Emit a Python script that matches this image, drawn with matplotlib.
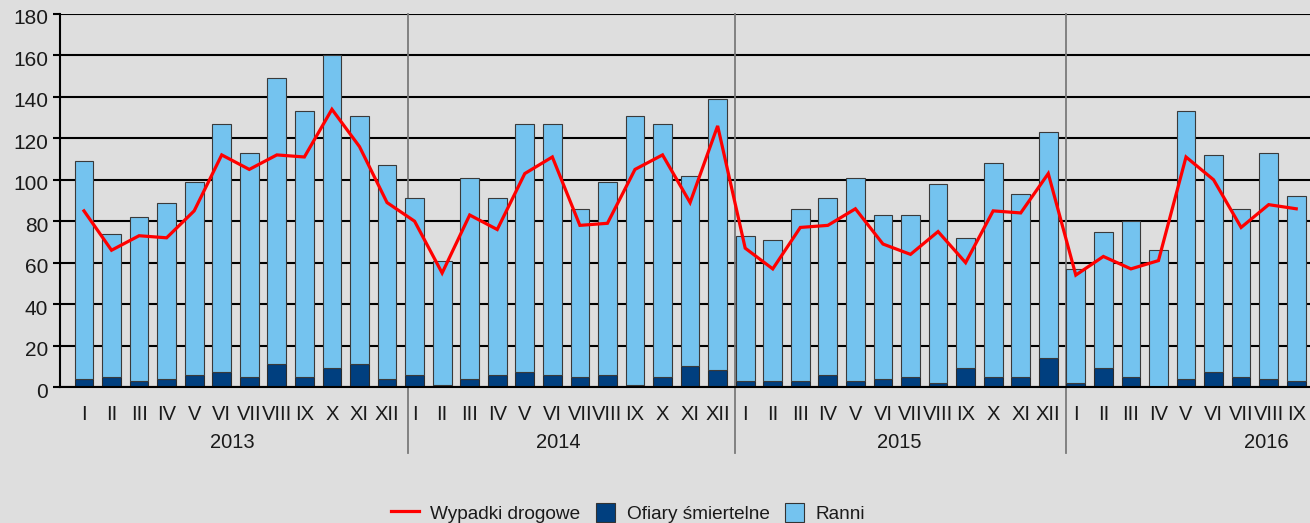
import matplotlib
matplotlib.use("Agg")
import matplotlib.pyplot as plt
import matplotlib.transforms as mtransforms
from matplotlib.lines import Line2D
from matplotlib.patches import Patch, Rectangle
from matplotlib.legend_handler import HandlerPatch
import numpy as np

plt.rcParams['font.family'] = ['Liberation Sans', 'DejaVu Sans']

# data
years = ["2013", "2014", "2015", "2016"]
roman = ["I", "II", "III", "IV", "V", "VI", "VII", "VIII", "IX", "X", "XI", "XII"]
months_per_year = [12, 12, 12, 9]

accidents = [85, 66, 73, 72, 85, 112, 105, 112, 111, 134, 116, 89,
             80, 55, 83, 76, 103, 111, 78, 79, 105, 112, 89, 126,
             67, 57, 77, 78, 86, 69, 64, 75, 60, 85, 84, 103,
             54, 63, 57, 61, 111, 100, 77, 88, 86]
deaths = [4, 5, 3, 4, 6, 7, 5, 11, 5, 9, 11, 4,
          6, 1, 4, 6, 7, 6, 5, 6, 1, 5, 10, 8,
          3, 3, 3, 6, 3, 4, 5, 2, 9, 5, 5, 14,
          2, 9, 5, 0, 4, 7, 5, 4, 3]
injured = [105, 69, 79, 85, 93, 120, 108, 138, 128, 151, 120, 103,
           85, 60, 97, 85, 120, 121, 81, 93, 130, 122, 92, 131,
           70, 68, 83, 85, 98, 79, 78, 96, 63, 103, 88, 109,
           55, 66, 75, 66, 129, 105, 81, 109, 89]

month_labels = []
for n in months_per_year:
    month_labels += roman[:n]

bg = '#dedede'
light_blue = '#74c3ef'
dark_blue = '#003f7f'
red = '#ff0000'
text_col = '#1a1a1a'

W, H = 1310, 523
fig = plt.figure(figsize=(W / 100, H / 100), dpi=100, facecolor=bg)
ax = fig.add_axes([60 / W, (H - 387) / H, 1250 / W, 373 / H])
ax.set_facecolor(bg)

x = np.arange(len(accidents))
ax.bar(x, deaths, width=0.68, color=dark_blue, edgecolor='#2b2b2b', linewidth=0.8, zorder=2)
ax.bar(x, injured, width=0.68, bottom=deaths, color=light_blue, edgecolor='#3a3a3a',
       linewidth=0.8, zorder=2)
ax.plot(x, accidents, color=red, linewidth=2.3, zorder=3, solid_joinstyle='miter')

ax.set_xlim(-0.87, 44.5)
ax.set_ylim(0, 180)
ax.set_yticks(range(0, 181, 20))
ax.yaxis.grid(True, color='black', linewidth=1.5, zorder=0)
ax.set_axisbelow(True)

for s in ['top', 'right']:
    ax.spines[s].set_visible(False)
ax.spines['left'].set_linewidth(1.5)
ax.spines['bottom'].set_linewidth(1.5)
ax.spines['bottom'].set_zorder(4)

ax.tick_params(axis='y', length=5, width=1.5, pad=3.5, labelsize=15, labelcolor=text_col)
ax.tick_params(axis='x', length=0, pad=13, labelsize=14.5, labelcolor=text_col)
ax.set_xticks(x)
ax.set_xticklabels(month_labels)

offset = mtransforms.ScaledTranslation(0, -3 / 100, fig.dpi_scale_trans)
for lab in ax.get_yticklabels():
    lab.set_transform(lab.get_transform() + offset)

# year separators and year labels
start = 0
year_x = [5.4, 17.2, 29.6, 42.9]
sep_shift = [0, -0.25, -0.37, -0.36]
for i, n in enumerate(months_per_year):
    if i > 0:
        ax.axvline(start + sep_shift[i], ymin=-(453 - 387) / 373, ymax=1, color='#7a7a7a',
                   linewidth=1.3, clip_on=False, zorder=1)
    ax.text(year_x[i], -(443 - 387) / 373, years[i], transform=ax.get_xaxis_transform(),
            ha='center', va='center', fontsize=14.5, color=text_col)
    start += n


def square_patch(legend, orig_handle, xdescent, ydescent, width, height, fontsize):
    side = height
    return Rectangle((-xdescent + width - side, -ydescent), side, side)


handles = [Line2D([0], [0], color=red, linewidth=2.3),
           Patch(facecolor=dark_blue, edgecolor='#333333', linewidth=0.8),
           Patch(facecolor=light_blue, edgecolor='#333333', linewidth=0.8)]
labels = ["Wypadki drogowe", "Ofiary śmiertelne", "Ranni"]
leg = fig.legend(handles, labels, loc='center', bbox_to_anchor=(628 / W, 10 / H), ncol=3,
                 frameon=False, fontsize=13.7, handlelength=1.45, handleheight=1.15,
                 handletextpad=0.62, columnspacing=0.35, labelcolor=text_col,
                 handler_map={Patch: HandlerPatch(patch_func=square_patch)})

fig.savefig("out.png", dpi=100, facecolor=bg)
